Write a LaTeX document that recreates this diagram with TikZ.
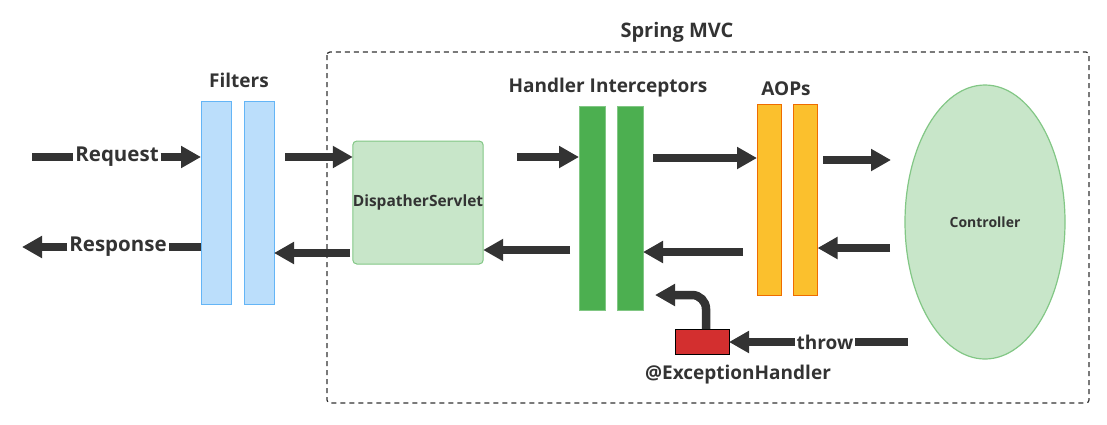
\documentclass[tikz,border=0pt]{standalone}
\usepackage{fontspec}
\setmainfont{Open Sans}
\usetikzlibrary{arrows.meta,shapes.geometric}
\definecolor{txt}{HTML}{333333}
\definecolor{fblue}{HTML}{BBDEFB}
\definecolor{sblue}{HTML}{64B5F6}
\definecolor{fgreen}{HTML}{C8E6C9}
\definecolor{sgreen}{HTML}{82C785}
\definecolor{dgreen}{HTML}{4CAF50}
\definecolor{dgreens}{HTML}{81C784}
\definecolor{forange}{HTML}{FBC02D}
\definecolor{sorange}{HTML}{EF6C00}
\definecolor{fred}{HTML}{D32F2F}
\tikzset{
  every node/.style={inner sep=0pt, outer sep=0pt, text=txt, font=\bfseries},
  big/.style={font=\fontsize{19}{22}\selectfont\bfseries},
  huge/.style={font=\fontsize{20.5}{24}\selectfont\bfseries, inner xsep=2pt},
  bar/.style={draw=txt, line width=8.5pt},
  arr/.style={bar, -{Triangle[length=20pt,width=21pt]}},
  filt/.style={draw=sblue, fill=fblue, line width=0.8pt, minimum width=30pt, minimum height=203pt},
  inter/.style={draw=dgreens, fill=dgreen, line width=0.8pt, minimum width=26pt, minimum height=204pt},
  aop/.style={draw=sorange, fill=forange, line width=0.8pt, minimum width=24pt, minimum height=191pt},
}
\begin{document}
\begin{tikzpicture}[x=1pt,y=-1pt]
\useasboundingbox (0,0) rectangle (1107,424);
% frame
\draw[line width=1.2pt, draw=txt, rounded corners=3pt, dash pattern=on 5pt off 4pt] (327,52) rectangle (1089,403);
\node[font=\fontsize{20}{24}\selectfont\bfseries] (mvc) at (677,32) {Spring MVC};
% filters
\node[filt] (f1) at (216,202.5) {};
\node[filt] (f2) at (259,202.5) {};
\node[big] (filters) at (239,80) {Filters};
% dispatcher
\node[draw=sgreen, fill=fgreen, line width=1pt, rounded corners=4pt, minimum width=130pt, minimum height=123pt, font=\fontsize{15.5}{18}\selectfont\bfseries] (ds) at (418,202.5) {DispatherServlet};
% interceptors
\node[inter] (i1) at (592,208) {};
\node[inter] (i2) at (630,208) {};
\node[big] (hi) at (608,88) {Handler Interceptors};
% aops
\node[aop] (a1) at (769,199.5) {};
\node[aop] (a2) at (805.5,199.5) {};
\node[big] (aops) at (786,89) {AOPs};
% controller
\node[draw=sgreen, fill=fgreen, line width=1.2pt, ellipse, minimum width=160pt, minimum height=274pt, font=\fontsize{14}{17}\selectfont\bfseries] (ctl) at (985,222) {Controller};
% exception handler
\node[draw=black, fill=fred, line width=1pt, minimum width=54pt, minimum height=25pt] (eh) at (702,341.5) {};
\node[big] (ehl) at (738,375) {@ExceptionHandler};
% request / response
\node[huge] (req) at (117,157) {Request};
\coordinate (reqs) at (32,157);
\draw[bar] (reqs) -- (req.west);
\draw[arr] (req.east) -- (f1.west |- req);
\node[huge] (resp) at (118,247) {Response};
\coordinate (respe) at (22,247);
\draw[bar] (f1.west |- resp) -- (resp.east);
\draw[arr] (resp.west) -- (respe);
% forward arrows
\coordinate (p1) at (285,157);
\draw[arr] (p1) -- (ds.west |- p1);
\coordinate (p2) at (517,157);
\draw[arr] (p2) -- (i1.west |- p2);
\coordinate (p3) at (653,158);
\draw[arr] (p3) -- (a1.west |- p3);
\coordinate (p4) at (823,160);
\coordinate (p4e) at (891,160);
\draw[arr] (p4) -- (p4e);
% back arrows
\coordinate (b1) at (890,248);
\draw[arr] (b1) -- (a2.east |- b1);
\coordinate (b2) at (743,252);
\draw[arr] (b2) -- (i2.east |- b2);
\coordinate (b3) at (570,250);
\draw[arr] (b3) -- (ds.east |- b3);
\coordinate (b4) at (350,253);
\draw[arr] (b4) -- (f2.east |- b4);
% throw
\node[big, inner xsep=2pt] (thr) at (825,342) {throw};
\coordinate (ts) at (908,342);
\draw[bar] (ts) -- (thr.east);
\draw[arr] (thr.west) -- (eh.east |- thr);
% curved arrow to interceptors
\coordinate (cb) at (706,329);
\coordinate (cc) at (706,295);
\coordinate (ct) at (655,295);
\draw[arr, rounded corners=14pt] (cb) -- (cc) -- (ct);
\end{tikzpicture}
\end{document}
